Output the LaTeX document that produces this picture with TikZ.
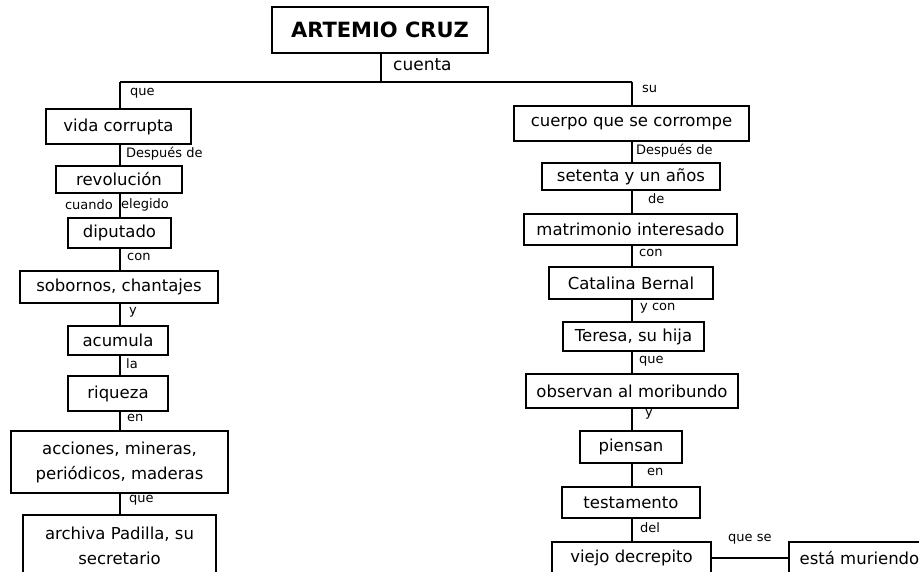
\documentclass[tikz,border=0pt]{standalone}
\usepackage{fontspec}
\setmainfont{DejaVu Sans}
\begin{document}
\begin{tikzpicture}[x=1pt,y=-1pt,
  box/.style={draw,line width=2pt,inner sep=0pt,align=center,
    font=\fontsize{16.5}{25}\selectfont},
  lab/.style={inner sep=0pt,font=\fontsize{13}{15}\selectfont},
  conn/.style={line width=2pt}]
\clip (0,0) rectangle (919,571);
\useasboundingbox (0,0) rectangle (919,571);
\coordinate (L) at (120,0);
\coordinate (R) at (632,0);
\coordinate (J) at (381,81.5);
% title
\node[box,minimum width=216pt,minimum height=46pt,font=\fontsize{21}{25}\selectfont\bfseries] (title) at (380,30) {ARTEMIO CRUZ};
% left column
\node[box,minimum width=145pt,minimum height=35pt] (vida) at (118.5,126.5) {vida corrupta};
\node[box,minimum width=126pt,minimum height=27pt] (rev) at (119,179.5) {revolución};
\node[box,minimum width=103pt,minimum height=30pt] (dip) at (119.5,233) {diputado};
\node[box,minimum width=198pt,minimum height=32pt] (sob) at (119,287) {sobornos, chantajes};
\node[box,minimum width=100pt,minimum height=29pt] (acu) at (118,340.5) {acumula};
\node[box,minimum width=100pt,minimum height=35pt] (riq) at (118,393.5) {riqueza};
\node[box,minimum width=217pt,minimum height=62pt] (acc) at (119.5,462) {acciones, mineras,\\periódicos, maderas};
\node[box,minimum width=193pt,minimum height=62pt] (arc) at (119.5,546) {archiva Padilla, su\\secretario};
% right column
\node[box,minimum width=235pt,minimum height=35pt] (cue) at (631.5,123.5) {cuerpo que se corrompe};
\node[box,minimum width=178pt,minimum height=27pt] (set) at (631,176.5) {setenta y un años};
\node[box,minimum width=213pt,minimum height=31pt] (mat) at (630.5,229.5) {matrimonio interesado};
\node[box,minimum width=164pt,minimum height=32pt] (cat) at (631,283) {Catalina Bernal};
\node[box,minimum width=141pt,minimum height=29pt] (ter) at (633.5,336.5) {Teresa, su hija};
\node[box,minimum width=212pt,minimum height=34pt] (obs) at (632,391) {observan al moribundo};
\node[box,minimum width=102pt,minimum height=32pt] (pie) at (631,447) {piensan};
\node[box,minimum width=138pt,minimum height=31pt] (tes) at (631,502.5) {testamento};
\node[box,minimum width=159pt,minimum height=32pt] (vie) at (631.5,558) {viejo decrepito};
\node[box,minimum width=141pt,minimum height=32pt] (mur) at (859.5,558) {está muriendo};
% connectors
\draw[conn] (title.south -| J) -- (J);
\draw[conn] (J -| L) -- (J -| R);
\draw[conn] (J -| L) -- (vida.north -| L);
\draw[conn] (vida.south -| L) -- (rev.north -| L);
\draw[conn] (rev.south -| L) -- (dip.north -| L);
\draw[conn] (dip.south -| L) -- (sob.north -| L);
\draw[conn] (sob.south -| L) -- (acu.north -| L);
\draw[conn] (acu.south -| L) -- (riq.north -| L);
\draw[conn] (riq.south -| L) -- (acc.north -| L);
\draw[conn] (acc.south -| L) -- (arc.north -| L);
\draw[conn] (J -| R) -- (cue.north -| R);
\draw[conn] (cue.south -| R) -- (set.north -| R);
\draw[conn] (set.south -| R) -- (mat.north -| R);
\draw[conn] (mat.south -| R) -- (cat.north -| R);
\draw[conn] (cat.south -| R) -- (ter.north -| R);
\draw[conn] (ter.south -| R) -- (obs.north -| R);
\draw[conn] (obs.south -| R) -- (pie.north -| R);
\draw[conn] (pie.south -| R) -- (tes.north -| R);
\draw[conn] (tes.south -| R) -- (vie.north -| R);
\draw[conn] (vie.east) -- (mur.west);
% labels
\node[lab,anchor=west,font=\fontsize{17}{19}\selectfont] (lcuenta) at (393,65) {cuenta};
\node[lab,anchor=west] (l1) at (130,93) {que};
\node[lab,anchor=west] (l2) at (126,154) {Después de};
\node[lab,anchor=east] (l3) at (113,205) {cuando};
\node[lab,anchor=west] (l4) at (121,205) {elegido};
\node[lab,anchor=west] (l5) at (127,257) {con};
\node[lab,anchor=west] (l6) at (129,312) {y};
\node[lab,anchor=west] (l7) at (126,364) {la};
\node[lab,anchor=west] (l8) at (127,418) {en};
\node[lab,anchor=west] (l9) at (129,500) {que};
\node[lab,anchor=west] (r1) at (642,89) {su};
\node[lab,anchor=west] (r2) at (636,151) {Después de};
\node[lab,anchor=west] (r3) at (648,199) {de};
\node[lab,anchor=west] (r4) at (639,253) {con};
\node[lab,anchor=west] (r5) at (640,308) {y con};
\node[lab,anchor=west] (r6) at (639,361) {que};
\node[lab,anchor=west] (r7) at (645,414) {y};
\node[lab,anchor=west] (r8) at (647,472) {en};
\node[lab,anchor=west] (r9) at (640,528) {del};
\node[lab,anchor=west] (r10) at (728,539) {que se};
\end{tikzpicture}
\end{document}
